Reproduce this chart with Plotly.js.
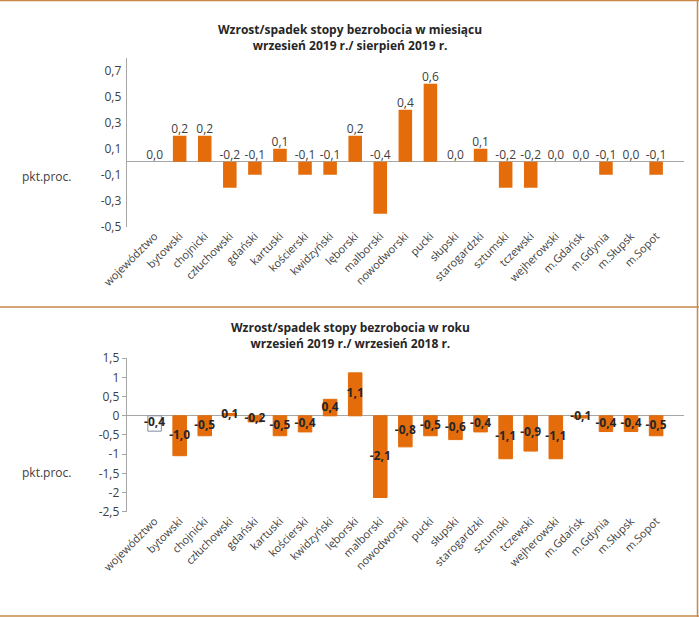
<!DOCTYPE html>
<html><head><meta charset="utf-8">
<script src="https://cdn.plot.ly/plotly-3.0.1.min.js"></script>
<style>html,body{margin:0;padding:0;background:#fff}#chart{width:699px;height:617px}</style>
</head><body><div id="chart"></div>
<script>
const categories = ["województwo","bytowski","chojnicki","człuchowski","gdański","kartuski","kościerski","kwidzyński","lęborski","malborski","nowodworski","pucki","słupski","starogardzki","sztumski","tczewski","wejherowski","m.Gdańsk","m.Gdynia","m.Słupsk","m.Sopot"];
const monthValues = [0.0,0.2,0.2,-0.2,-0.1,0.1,-0.1,-0.1,0.2,-0.4,0.4,0.6,0.0,0.1,-0.2,-0.2,0.0,0.0,-0.1,0.0,-0.1];
const yearValues = [-0.4,-1.04,-0.52,0.06,-0.16,-0.52,-0.42,0.43,1.12,-2.13,-0.81,-0.52,-0.62,-0.42,-1.12,-0.92,-1.12,-0.06,-0.41,-0.41,-0.52];
const yearLabels = ["-0,4","-1,0","-0,5","0,1","-0,2","-0,5","-0,4","0,4","1,1","-2,1","-0,8","-0,5","-0,6","-0,4","-1,1","-0,9","-1,1","-0,1","-0,4","-0,4","-0,5"];
const topTickVals = [-0.5,-0.3,-0.1,0.1,0.3,0.5,0.7];
const topTickText = ["-0,5","-0,3","-0,1","0,1","0,3","0,5","0,7"];
const botTickVals = [-2.5,-2,-1.5,-1,-0.5,0,0.5,1,1.5];
const botTickText = ["-2,5","-2","-1,5","-1","-0,5","0","0,5","1","1,5"];

const ORANGE = '#E46C0A';
const fmt = v => v.toFixed(1).replace('.', ',');
const monthLabels = monthValues.map(fmt);

const font = 'Open Sans, Noto Sans, sans-serif';
const traces = [
  {type:'bar', x:categories, y:monthValues, xaxis:'x', yaxis:'y',
   marker:{color:ORANGE}, hoverinfo:'skip', showlegend:false},
  {type:'scatter', mode:'text', x:categories, y:monthValues.map(v=>Math.max(v,0)),
   text:monthLabels, textposition:'top center', cliponaxis:false,
   textfont:{family:font, size:12, color:'#404040'}, xaxis:'x', yaxis:'y', showlegend:false, hoverinfo:'skip'},
  {type:'bar', x:categories, y:yearValues, xaxis:'x2', yaxis:'y2',
   marker:{color:categories.map((c,i)=>i===0?'#ffffff':ORANGE), line:{color:categories.map((c,i)=>i===0?'#7f8c99':ORANGE), width:1}},
   hoverinfo:'skip', showlegend:false},
  {type:'scatter', mode:'text', x:categories, y:yearValues.map(v=>v/2),
   text:yearLabels, textposition:'middle center', cliponaxis:false,
   textfont:{family:font, size:12, color:'#262626', weight:'bold'}, xaxis:'x2', yaxis:'y2', showlegend:false, hoverinfo:'skip'}
];

const xCommon = {type:'category', tickangle:-45, showline:false, showgrid:false, zeroline:false, ticks:'',
  tickfont:{family:font, size:11, color:'#404040'}, automargin:false};
const layout = {
  width:699, height:617, margin:{l:0,r:0,t:0,b:0}, paper_bgcolor:'#fff', plot_bgcolor:'rgba(0,0,0,0)',
  bargap:0.46, showlegend:false, font:{family:font, color:'#404040'},
  xaxis:Object.assign({}, xCommon, {domain:[0.1813,0.9785], anchor:'y'}),
  yaxis:{domain:[0.6326,0.9065], range:[-0.5,0.8], tickvals:topTickVals, ticktext:topTickText,
    showgrid:false, zeroline:true, zerolinecolor:'#a6a6a6', zerolinewidth:1, showline:true, linecolor:'#a6a6a6',
    ticks:'outside', ticklen:2, tickcolor:'rgba(0,0,0,0)', tickfont:{family:font, size:12, color:'#404040'}, anchor:'x', automargin:false},
  xaxis2:Object.assign({}, xCommon, {domain:[0.1813,0.9785], anchor:'y2'}),
  yaxis2:{domain:[0.1707,0.4193], range:[-2.5,1.5], tickvals:botTickVals, ticktext:botTickText,
    showgrid:false, zeroline:true, zerolinecolor:'#a6a6a6', zerolinewidth:1, showline:true, linecolor:'#a6a6a6',
    ticks:'outside', ticklen:4, tickcolor:'#a6a6a6', tickfont:{family:font, size:12, color:'#404040'}, anchor:'x2', automargin:false},
  annotations:[
    {text:'<b>Wzrost/spadek stopy bezrobocia w miesiącu</b><br><b>wrzesień 2019 r./ sierpień 2019 r.</b>', x:0.501, y:1-37.5/617,
     xref:'paper', yref:'paper', xanchor:'center', yanchor:'middle', showarrow:false, font:{family:font, size:12, color:'#262626'}, align:'center'},
    {text:'<b>Wzrost/spadek stopy bezrobocia w roku</b><br><b>wrzesień 2019 r./ wrzesień 2018 r.</b>', x:0.501, y:1-335.5/617,
     xref:'paper', yref:'paper', xanchor:'center', yanchor:'middle', showarrow:false, font:{family:font, size:12, color:'#262626'}, align:'center'},
    {text:'pkt.proc.', x:46/699, y:1-176/617, xref:'paper', yref:'paper', xanchor:'center', yanchor:'middle', showarrow:false, font:{family:font, size:12, color:'#404040'}},
    {text:'pkt.proc.', x:46/699, y:1-472/617, xref:'paper', yref:'paper', xanchor:'center', yanchor:'middle', showarrow:false, font:{family:font, size:12, color:'#404040'}}
  ],
  shapes:[
    {type:'line', xref:'paper', yref:'paper', x0:0, x1:1, y0:1-0.5/617, y1:1-0.5/617, line:{color:'#c8894a', width:1.5}},
    {type:'line', xref:'paper', yref:'paper', x0:0, x1:1, y0:1-307/617, y1:1-307/617, line:{color:'#c8894a', width:1.5}},
    {type:'line', xref:'paper', yref:'paper', x0:0, x1:1, y0:1/617, y1:1/617, line:{color:'#c8894a', width:1.5}},
    {type:'line', xref:'paper', yref:'paper', x0:697.5/699, x1:697.5/699, y0:0, y1:1, line:{color:'#c8894a', width:1.5}}
  ]
};
Plotly.newPlot('chart', traces, layout, {staticPlot:true, displayModeBar:false});
</script></body></html>
